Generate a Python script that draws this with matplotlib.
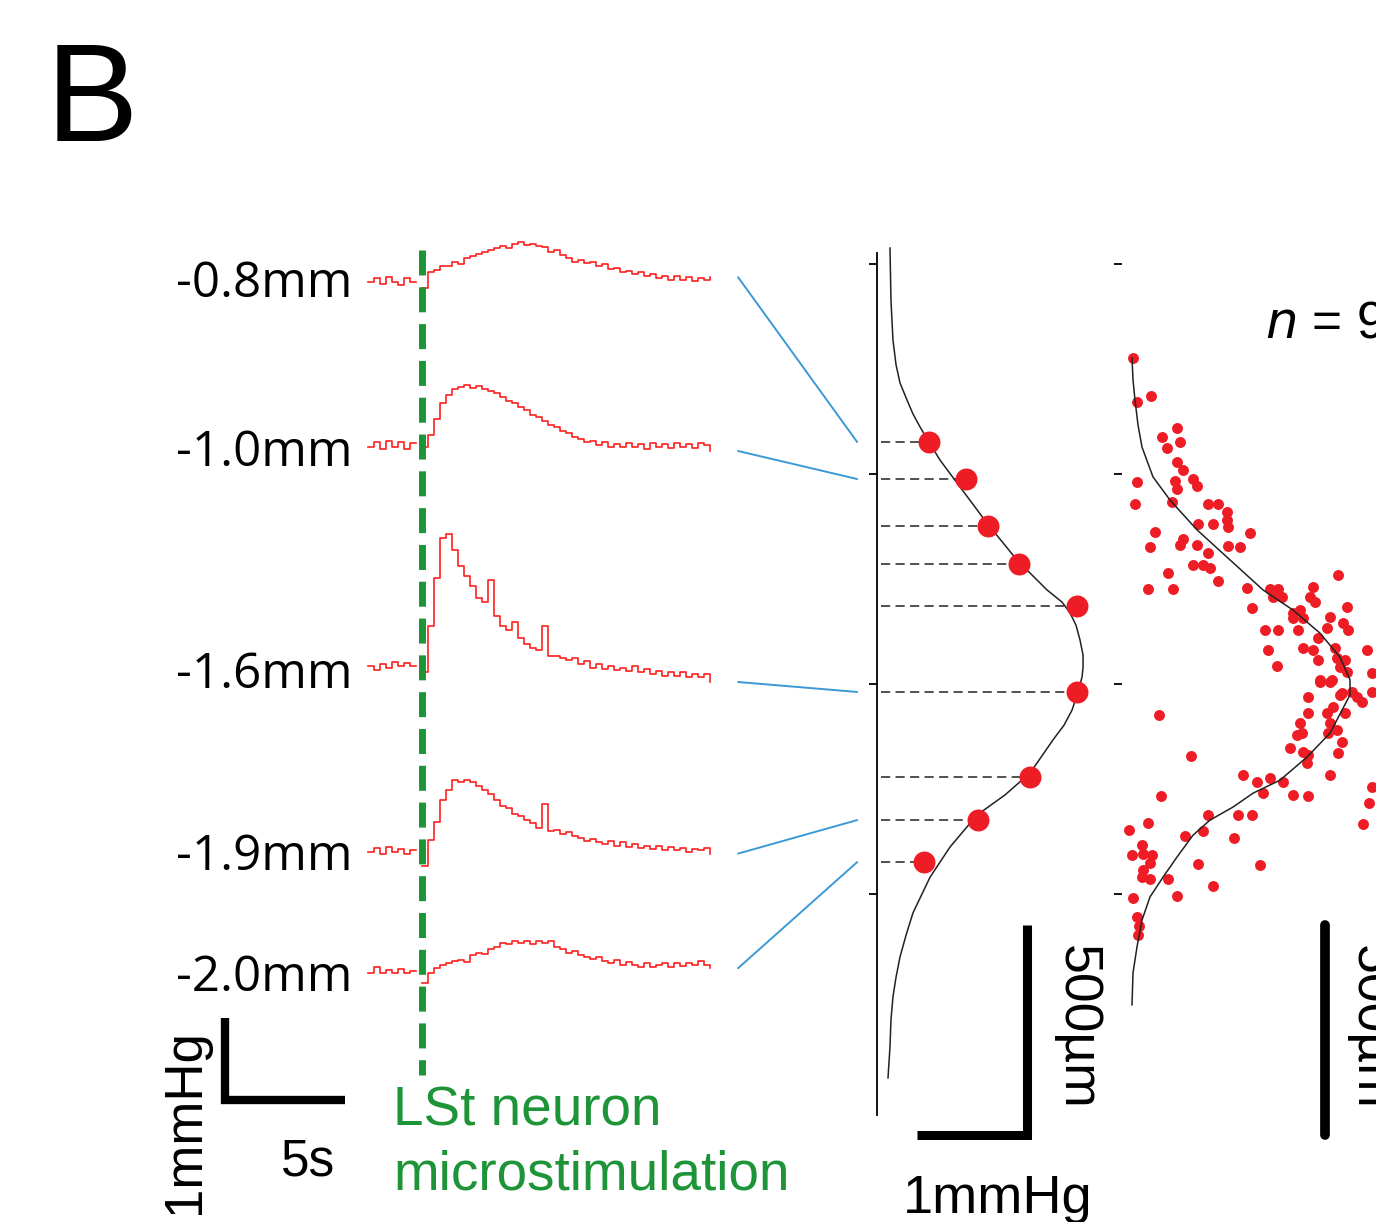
import matplotlib
matplotlib.use('Agg')
import matplotlib.pyplot as plt
import numpy as np
from matplotlib.patches import ConnectionPatch

plt.rcParams['font.family'] = ['Liberation Sans', 'DejaVu Sans']

W, H = 1376, 1222

# ---- pressure traces (mmHg relative to baseline), dt = 0.25 s, start -2.25 s
depth_labels = ['-0.8mm', '-1.0mm', '-1.6mm', '-1.9mm', '-2.0mm']
dt = 0.25
t0 = -2.25

pre_1 = [0, 0.05, -0.02, 0.06, 0, -0.04, 0.05, 0]
post_1 = [-0.08, 0.12, 0.15, 0.2, 0.2, 0.25, 0.22, 0.3, 0.32, 0.35, 0.38, 0.4, 0.42,
          0.45, 0.43, 0.48, 0.5, 0.46, 0.48, 0.45, 0.44, 0.38, 0.4, 0.34, 0.3, 0.25,
          0.28, 0.24, 0.25, 0.2, 0.22, 0.16, 0.18, 0.12, 0.14, 0.1, 0.12, 0.07, 0.1,
          0.05, 0.08, 0.03, 0.07, 0.02, 0.06, 0.01, 0.05, 0.02, 0.06]

pre_2 = [0, 0.06, -0.02, 0.07, 0.0, 0.06, -0.02, 0.05]
post_2 = [0.0, 0.15, 0.35, 0.55, 0.65, 0.72, 0.75, 0.78, 0.74, 0.76, 0.72, 0.7, 0.68,
          0.62, 0.58, 0.55, 0.5, 0.46, 0.4, 0.38, 0.33, 0.28, 0.25, 0.2, 0.18, 0.12,
          0.1, 0.06, 0.08, 0.03, 0.06, 0.0, 0.04, 0.0, 0.05, 0.0, 0.04, -0.02, 0.05,
          0.0, 0.04, -0.01, 0.05, 0.0, 0.04, -0.01, 0.05, 0.02, -0.05]

pre_3 = [0, -0.05, 0.03, -0.02, 0.05, 0.0, 0.04, 0.0]
post_3 = [-0.08, 0.5, 1.1, 1.6, 1.65, 1.45, 1.25, 1.12, 1.0, 0.85, 0.8, 1.08, 0.62,
          0.5, 0.45, 0.55, 0.35, 0.28, 0.22, 0.2, 0.5, 0.12, 0.12, 0.1, 0.08, 0.1,
          0.02, 0.06, -0.02, 0.02, -0.04, 0.0, -0.05, -0.02, -0.06, 0.0, -0.08, -0.04,
          -0.1, -0.06, -0.12, -0.08, -0.12, -0.08, -0.14, -0.1, -0.14, -0.1, -0.2]

pre_4 = [0.0, 0.05, -0.03, 0.06, 0.0, 0.04, -0.02, 0.03]
post_4 = [-0.18, 0.15, 0.38, 0.65, 0.78, 0.9, 0.88, 0.9, 0.88, 0.82, 0.78, 0.72, 0.65,
          0.58, 0.55, 0.48, 0.45, 0.4, 0.36, 0.3, 0.6, 0.26, 0.28, 0.22, 0.25, 0.2,
          0.18, 0.14, 0.16, 0.12, 0.1, 0.14, 0.08, 0.12, 0.06, 0.1, 0.05, 0.08, 0.04,
          0.07, 0.02, 0.06, 0.02, 0.05, 0.0, 0.04, 0.02, 0.05, -0.02]

pre_5 = [0.0, 0.08, 0.0, 0.04, 0.0, 0.05, 0.0, 0.03]
post_5 = [-0.12, 0.0, 0.06, 0.1, 0.12, 0.15, 0.16, 0.14, 0.22, 0.25, 0.24, 0.3, 0.32,
          0.38, 0.36, 0.4, 0.38, 0.4, 0.36, 0.4, 0.38, 0.4, 0.32, 0.3, 0.25, 0.27,
          0.22, 0.2, 0.17, 0.2, 0.15, 0.13, 0.16, 0.1, 0.14, 0.1, 0.08, 0.12, 0.07,
          0.1, 0.13, 0.08, 0.12, 0.09, 0.13, 0.1, 0.15, 0.1, 0.06]

pres = [pre_1, pre_2, pre_3, pre_4, pre_5]
posts = [post_1, post_2, post_3, post_4, post_5]

# ---- depth profile of mean response (mmHg vs depth in um)
prof_x = [0.47, 0.81, 1.01, 1.29, 1.82, 1.82, 1.39, 0.92, 0.43]
prof_depth = [424, 512, 624, 714, 814, 1019, 1221, 1324, 1424]
trace_to_point = [0, 1, 5, 7, 8]

fit_x = [0.118, 0.127, 0.145, 0.173, 0.209, 0.273, 0.327, 0.391, 0.473, 0.573,
         0.755, 1.0, 1.273, 1.545, 1.682, 1.755, 1.809, 1.845, 1.873, 1.873, 1.864,
         1.827, 1.773, 1.7, 1.6, 1.391, 1.164, 0.909, 0.664, 0.482, 0.327, 0.264,
         0.209, 0.173, 0.145, 0.127, 0.118, 0.1]
fit_depth = [-38, 86, 181, 240, 283, 324, 357, 388, 424, 467, 531, 617, 705, 776,
             805, 831, 860, 895, 931, 960, 983, 1019, 1062, 1098, 1133, 1212, 1264,
             1312, 1388, 1460, 1545, 1598, 1650, 1698, 1745, 1800, 1864, 1938]

# ---- population data
pop_x = [0.11, 0.15, 0.29, 0.55, 0.40, 0.45, 0.58, 0.55, 0.61, 0.15, 0.53, 0.55,
         0.71, 0.75, 0.13, 0.50, 0.86, 0.96, 1.05, 1.05, 1.06, 0.76, 0.91, 1.28,
         0.33, 0.28, 0.58, 0.61, 0.75, 0.86, 1.06, 1.18, 0.71, 0.81, 0.88, 0.46,
         0.96, 0.26, 0.51, 1.25, 1.30, 1.48, 1.56, 1.51, 1.60, 2.16, 1.91, 1.88,
         1.93, 1.71, 1.78, 1.81, 1.71, 2.08, 2.25, 2.21, 2.26, 1.43, 1.56, 1.76,
         2.05, 1.96, 1.81, 1.91, 1.96, 1.46, 1.55, 2.13, 2.15, 2.23, 2.25, 2.18,
         1.98, 2.10, 2.45, 2.50, 1.86, 2.20, 2.30, 2.35, 1.98, 2.08, 2.18, 2.40,
         2.50, 1.86, 2.05, 2.11, 2.23, 1.78, 1.75, 1.80, 2.08, 2.15, 2.06, 2.20,
         1.68, 1.81, 1.86, 1.85, 2.16, 2.08, 0.37, 0.69, 1.21, 1.35, 1.48, 1.41,
         1.61, 1.71, 1.86, 2.50, 2.47, 2.41, 0.39, 0.86, 1.16, 1.30, 0.26, 0.07,
         0.81, 0.63, 1.12, 0.20, 0.10, 0.21, 0.30, 0.28, 0.21, 0.76, 1.38, 0.20,
         0.28, 0.46, 0.91, 0.55, 0.11, 0.15, 0.17, 0.16]
pop_depth = [224, 329, 314, 390, 412, 438, 424, 471, 490, 519, 517, 536,
             512, 529, 571, 567, 571, 571, 590, 610, 626, 619, 619, 640,
             638, 674, 669, 655, 669, 688, 671, 674, 717, 717, 724, 736,
             755, 774, 774, 771, 819, 774, 774, 793, 793, 740, 769, 793,
             805, 831, 824, 843, 843, 840, 817, 855, 871, 871, 871, 871,
             867, 890, 914, 919, 943, 919, 957, 914, 938, 943, 971, 960,
             990, 990, 919, 974, 1031, 1021, 1019, 1031, 995, 995, 1026, 1043,
             1019, 1069, 1069, 1055, 1069, 1093, 1121, 1117, 1093, 1110, 1117, 1138,
             1152, 1162, 1169, 1188, 1164, 1217, 1074, 1171, 1217, 1233, 1224, 1260,
             1233, 1264, 1267, 1245, 1283, 1333, 1267, 1312, 1312, 1312, 1331, 1348,
             1350, 1362, 1367, 1383, 1407, 1405, 1407, 1426, 1443, 1429, 1431, 1460,
             1464, 1464, 1481, 1505, 1510, 1555, 1576, 1598]

pop_fit_x = [0.10, 0.11, 0.13, 0.16, 0.20, 0.31, 0.48, 0.75, 1.05, 1.41, 1.71, 1.98,
             2.18, 2.28, 2.28, 2.08, 1.85, 1.58, 1.31, 1.11, 0.88, 0.71, 0.55, 0.41,
             0.28, 0.20, 0.15, 0.11, 0.10]
pop_fit_depth = [224, 276, 324, 383, 436, 507, 562, 633, 698, 776, 824, 879, 936,
                 990, 1026, 1117, 1174, 1229, 1260, 1293, 1324, 1360, 1412, 1460,
                 1507, 1562, 1626, 1688, 1764]

depth_ticks = [0, 500, 1000, 1500]

red = '#ff1f1f'
dot_red = '#ee1c25'
green = '#1e9438'
blue = '#3b9ad6'


def fr(x, y):
    return x / W, 1 - y / H


def box(l, t, r, b):
    return [l / W, 1 - b / H, (r - l) / W, (b - t) / H]


fig = plt.figure(figsize=(W / 100, H / 100), dpi=100)

# ---------------- traces
ax_tr = fig.add_axes(box(160, 200, 720, 1110))
ax_tr.set_xlim(-10.917, 12.417)
ax_tr.set_ylim(-0.125, 11.25)
ax_tr.axis('off')

row_base = [10.225, 8.1625, 5.425, 3.1, 1.5875]
label_base_px = [297, 466, 688, 870, 991]
trace_ends = []
for i in range(5):
    vals = np.array(pres[i] + [np.nan] + posts[i], dtype=float)
    t = t0 + dt * np.arange(len(vals))
    ax_tr.plot(t, vals + row_base[i], color=red, lw=1.2, drawstyle='steps-post')
    trace_ends.append((t[-1], row_base[i] + vals[-1]))
    fig.text(*fr(352, label_base_px[i]), depth_labels[i], ha='right', va='baseline',
             fontsize=35.5, family=['Open Sans', 'DejaVu Sans'])

# stimulation marker
ax_tr.plot([0, 0], [10.63, 0.31], color=green, lw=5, dashes=(3.6, 1.7))

# scale bar 5 s / 1 mmHg
ax_tr.plot([-8.2, -8.2, -3.2], [1.03, 0, 0], color='black', lw=6,
           solid_joinstyle='miter', solid_capstyle='butt')
fig.text(*fr(308, 1175), '5s', ha='center', va='baseline', fontsize=37)
fig.text(*fr(185, 1122), '1mmHg', ha='center', va='center', rotation=90, fontsize=38)
fig.text(*fr(393, 1125), 'LSt neuron', ha='left', va='baseline', fontsize=39.5, color=green)
fig.text(*fr(393, 1190), 'microstimulation', ha='left', va='baseline', fontsize=39.5,
         color=green)

# ---------------- depth profile
ax_pr = fig.add_axes(box(877, 240, 1100, 1140))
ax_pr.set_xlim(0, 2.027)
ax_pr.set_ylim(2085.7, -57.1)
for s in ['top', 'right', 'bottom']:
    ax_pr.spines[s].set_visible(False)
ax_pr.spines['left'].set_bounds(-26, 2025)
ax_pr.spines['left'].set_linewidth(1.3)
ax_pr.set_xticks([])
ax_pr.set_yticks(depth_ticks)
ax_pr.set_yticklabels([])
ax_pr.tick_params(axis='y', direction='out', length=6, width=1.3)
ax_pr.patch.set_visible(False)

ax_pr.plot(fit_x, fit_depth, color='#222222', lw=1.1)
ax_pr.hlines(prof_depth, 0.04, prof_x, colors='#222222', lw=1.1,
             linestyles=(0, (6, 3.5)))
ax_pr.scatter(prof_x, prof_depth, s=250, color=dot_red, zorder=3, linewidths=0)

ax_pr.plot([0.364, 1.364, 1.364], [2074, 2074, 1574], color='black', lw=6.5,
           solid_joinstyle='miter', solid_capstyle='butt', clip_on=False)
fig.text(*fr(1077, 1027), '500µm', ha='center', va='center', rotation=270, fontsize=38.5)
fig.text(*fr(998, 1213), '1mmHg', ha='center', va='baseline', fontsize=39)

# connectors from traces to profile points
for i in range(5):
    k = trace_to_point[i]
    con = ConnectionPatch(xyA=(trace_ends[i][0] + 1.17, trace_ends[i][1]), coordsA=ax_tr.transData,
                          xyB=(-0.18, prof_depth[k]), coordsB=ax_pr.transData,
                          color=blue, lw=1.4)
    fig.add_artist(con)

# ---------------- population
ax_pop = fig.add_axes(box(1122, 240, 1500, 1140))
ax_pop.set_xlim(0, 3.78)
ax_pop.set_ylim(2085.7, -57.1)
for s in ax_pop.spines.values():
    s.set_visible(False)
ax_pop.set_xticks([])
ax_pop.set_yticks(depth_ticks)
ax_pop.set_yticklabels([])
ax_pop.tick_params(axis='y', direction='out', length=6, width=1.3)
ax_pop.patch.set_visible(False)

ax_pop.scatter(pop_x, pop_depth, s=62, color=dot_red, linewidths=0, zorder=2)
ax_pop.plot(pop_fit_x, pop_fit_depth, color='#222222', lw=1.1, zorder=3)
ax_pop.plot([2.03, 2.03], [1574, 2074], color='black', lw=7, solid_capstyle='round')
fig.text(*fr(1370, 1027), '500µm', ha='center', va='center', rotation=270, fontsize=38.5)
fig.text(*fr(1265, 337), '$n$ = 9', ha='left', va='baseline', fontsize=37,
         math_fontfamily='dejavusans')

fig.text(*fr(46, 141), 'B', ha='left', va='baseline', fontsize=100)

plt.savefig('out.png', dpi=100)
